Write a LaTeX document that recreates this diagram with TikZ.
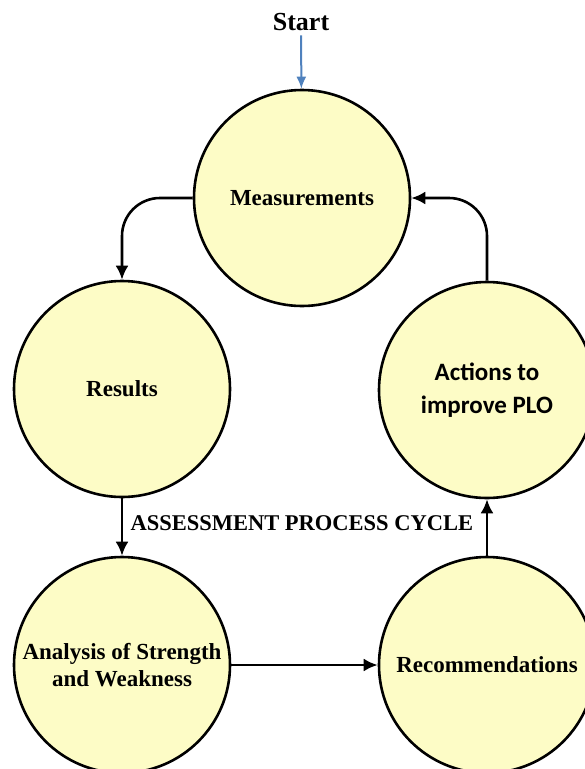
\documentclass[tikz,border=0pt]{standalone}
\usepackage{fontspec}
\setmainfont{Liberation Serif}
\newfontfamily\calibri{Carlito}
\usepackage{xcolor}
\usetikzlibrary{arrows.meta, positioning}

\definecolor{stagefill}{RGB}{253,252,198}
\definecolor{startblue}{HTML}{4F81BD}

\tikzset{
  stage/.style={circle, draw=black, line width=2.6pt, fill=stagefill,
    minimum size=216pt, inner sep=0pt, align=center,
    font=\fontsize{23}{27}\selectfont\bfseries},
  flow/.style={line width=2.6pt, -{Latex[length=14pt,width=13pt]}},
}

\begin{document}
\begin{tikzpicture}[x=1pt, y=-1pt]
\useasboundingbox (0,0) rectangle (585,769);

\node[font=\fontsize{26}{30}\selectfont\bfseries] (start) at (301,22) {Start};

\node[stage] (meas) at (302,198) {Measurements};
\node[stage] (res) at (122,389) {Results};
\node[stage, font=\calibri\fontsize{25}{33}\selectfont\bfseries] (act) at (487,390) {Actions to\\improve PLO};
\node[stage] (anal) at (122,665) {Analysis of Strength\\and Weakness};
\node[stage] (rec) at (487,665) {Recommendations};

\node[font=\fontsize{22.5}{26}\selectfont\bfseries, anchor=west] (cycle) at (127,523) {ASSESSMENT PROCESS CYCLE};

\draw[line width=2pt, startblue, -{Latex[length=12pt,width=10pt]}, shorten <=1pt] (start) -- (meas);
\draw[flow, rounded corners=38pt] (meas.west) -| (res.north);
\draw[flow] (res) -- (anal);
\draw[flow] (anal.east) -- (rec.west);
\draw[flow] (rec) -- (act);
\draw[flow, rounded corners=38pt] (act.north) |- (meas.east);
\end{tikzpicture}
\end{document}
